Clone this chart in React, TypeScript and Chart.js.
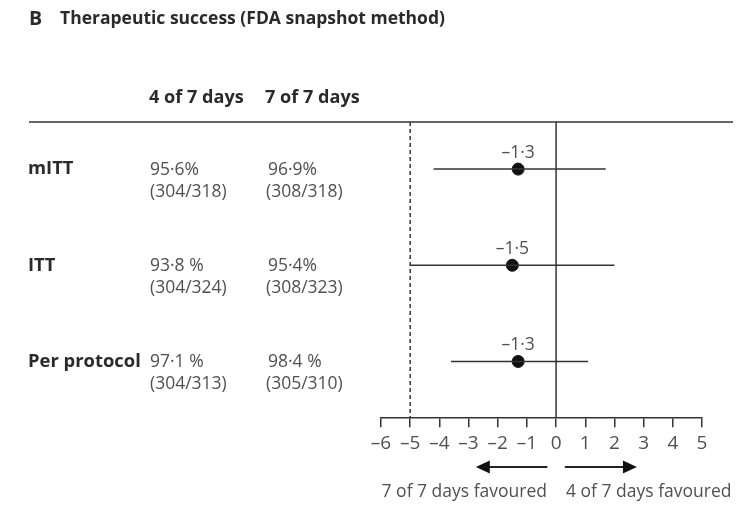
import React, { useEffect, useRef } from "react";
import { Chart, registerables } from "chart.js";

Chart.register(...registerables);

const rowLabels = ["mITT", "ITT", "Per protocol"];
const pct4of7 = ["95·6%", "93·8 %", "97·1 %"];
const frac4of7 = ["(304/318)", "(304/324)", "(304/313)"];
const pct7of7 = ["96·9%", "95·4%", "98·4 %"];
const frac7of7 = ["(308/318)", "(308/323)", "(305/310)"];
const estimates = [-1.3, -1.5, -1.3];
const estimateLabels = ["–1·3", "–1·5", "–1·3"];
const ciLow = [-4.2, -5.0, -3.6];
const ciHigh = [1.7, 2.0, 1.1];
const xMin = -6;
const xMax = 5;
const margin = -5;
const titleLetter = "B";
const titleText = "Therapeutic success (FDA snapshot method)";
const colHeaders = ["4 of 7 days", "7 of 7 days"];
const favouredLeft = "7 of 7 days favoured";
const favouredRight = "4 of 7 days favoured";

const FONT = "'Open Sans', Lato, sans-serif";
const LINE = "#333";
const TEXT_DARK = "#2a2a2a";
const TEXT_GREY = "#505050";

function fitSize(text: string, weight: string, target: number): number {
  const c = document.createElement("canvas").getContext("2d")!;
  c.font = `${weight} 20px ${FONT}`;
  const w = c.measureText(text).width;
  return Math.round((20 * target) / w * 10) / 10;
}

export default function App() {
  const ref = useRef<HTMLCanvasElement | null>(null);

  useEffect(() => {
    const canvas = ref.current;
    if (!canvas) return;
    const yMin = -0.49;
    const yMax = 2.59;
    const titleSize = fitSize(titleText, "bold", 386);
    const boldSize = fitSize("Per protocol", "bold", 113);
    const regSize = fitSize(favouredLeft, "normal", 165);
    const tickSize = regSize + 1.5;

    const overlay = {
      id: "forestOverlay",
      afterDraw(chart: any) {
        const ctx = chart.ctx as CanvasRenderingContext2D;
        const xs = chart.scales.x;
        const ys = chart.scales.y;
        const area = chart.chartArea;
        ctx.save();
        ctx.textBaseline = "middle";
        ctx.textAlign = "left";
        ctx.fillStyle = TEXT_DARK;
        ctx.font = `bold ${titleSize + 2}px ${FONT}`;
        ctx.fillText(titleLetter, 29, 19);
        ctx.font = `bold ${titleSize}px ${FONT}`;
        ctx.fillText(titleText, 60, 19);
        ctx.font = `bold ${boldSize - 0.3}px ${FONT}`;
        ctx.fillText(colHeaders[0], 149, 98);
        ctx.fillText(colHeaders[1], 265, 98);
        ctx.strokeStyle = LINE;
        ctx.lineWidth = 1.5;
        ctx.beginPath();
        ctx.moveTo(29, area.top);
        ctx.lineTo(733, area.top);
        ctx.stroke();
        rowLabels.forEach((lab, i) => {
          const y = ys.getPixelForValue(i);
          ctx.fillStyle = TEXT_DARK;
          ctx.font = `bold ${boldSize}px ${FONT}`;
          ctx.textAlign = "left";
          ctx.fillText(lab, 28, y);
          ctx.fillStyle = TEXT_GREY;
          ctx.font = `${regSize}px ${FONT}`;
          ctx.fillText(pct4of7[i], 150, y + 1);
          ctx.fillText(frac4of7[i], 150, y + 23);
          ctx.fillText(pct7of7[i], 268, y + 1);
          ctx.fillText(frac7of7[i], 266, y + 23);
          ctx.textAlign = "center";
          ctx.fillText(estimateLabels[i], xs.getPixelForValue(estimates[i]), y - 16);
        });
        const ay = 467;
        const drawArrow = (from: number, to: number) => {
          const x1 = xs.getPixelForValue(from);
          const x2 = xs.getPixelForValue(to);
          const dir = Math.sign(x2 - x1);
          ctx.strokeStyle = "#222";
          ctx.fillStyle = "#111";
          ctx.lineWidth = 2;
          ctx.beginPath();
          ctx.moveTo(x1, ay);
          ctx.lineTo(x2 - dir * 12, ay);
          ctx.stroke();
          ctx.beginPath();
          ctx.moveTo(x2, ay);
          ctx.lineTo(x2 - dir * 14, ay - 6.5);
          ctx.lineTo(x2 - dir * 14, ay + 6.5);
          ctx.closePath();
          ctx.fill();
        };
        drawArrow(-0.3, -2.75);
        drawArrow(0.3, 2.77);
        ctx.fillStyle = TEXT_GREY;
        ctx.font = `${regSize}px ${FONT}`;
        ctx.textAlign = "right";
        ctx.fillText(favouredLeft, 547, 492);
        ctx.textAlign = "left";
        ctx.fillText(favouredRight, 566, 492);
        ctx.restore();
      },
    };

    const ciDatasets = estimates.map((_, i) => ({
      type: "scatter" as const,
      data: [
        { x: ciLow[i], y: i },
        { x: ciHigh[i], y: i },
      ],
      showLine: true,
      borderColor: LINE,
      borderWidth: 1.5,
      pointRadius: 0,
    }));

    const chart = new Chart(canvas, {
      type: "scatter",
      data: {
        datasets: [
          {
            data: [
              { x: margin, y: yMin },
              { x: margin, y: yMax },
            ],
            showLine: true,
            borderColor: LINE,
            borderWidth: 1.5,
            borderDash: [4, 3],
            pointRadius: 0,
          },
          {
            data: [
              { x: 0, y: yMin },
              { x: 0, y: yMax },
            ],
            showLine: true,
            borderColor: LINE,
            borderWidth: 1.5,
            pointRadius: 0,
          },
          ...ciDatasets,
          {
            data: estimates.map((e, i) => ({ x: e, y: i })),
            pointRadius: 6,
            pointBackgroundColor: "#111",
            pointBorderColor: "#111",
            showLine: false,
          },
        ],
      },
      options: {
        responsive: false,
        animation: false,
        layout: { padding: { left: 381, right: 52, top: 122, bottom: 45 } },
        plugins: { legend: { display: false }, tooltip: { enabled: false } },
        scales: {
          x: {
            type: "linear",
            min: xMin,
            max: xMax,
            ticks: {
              stepSize: 1,
              color: TEXT_GREY,
              font: { family: FONT, size: tickSize },
              padding: 5,
              callback: (v: any) => String(v).replace("-", "–"),
            },
            grid: { drawOnChartArea: false, drawTicks: true, tickLength: 9, color: LINE, lineWidth: 1.5 },
            border: { display: true, color: LINE, width: 1.5 },
          },
          y: { type: "linear", display: false, min: yMin, max: yMax, reverse: true },
        },
      },
      plugins: [overlay],
    });
    return () => chart.destroy();
  }, []);

  return (
    <div style={{ position: "fixed", left: 0, top: 0, width: 754, height: 505, background: "#fff" }}>
      <canvas ref={ref} width={754} height={505} />
    </div>
  );
}
